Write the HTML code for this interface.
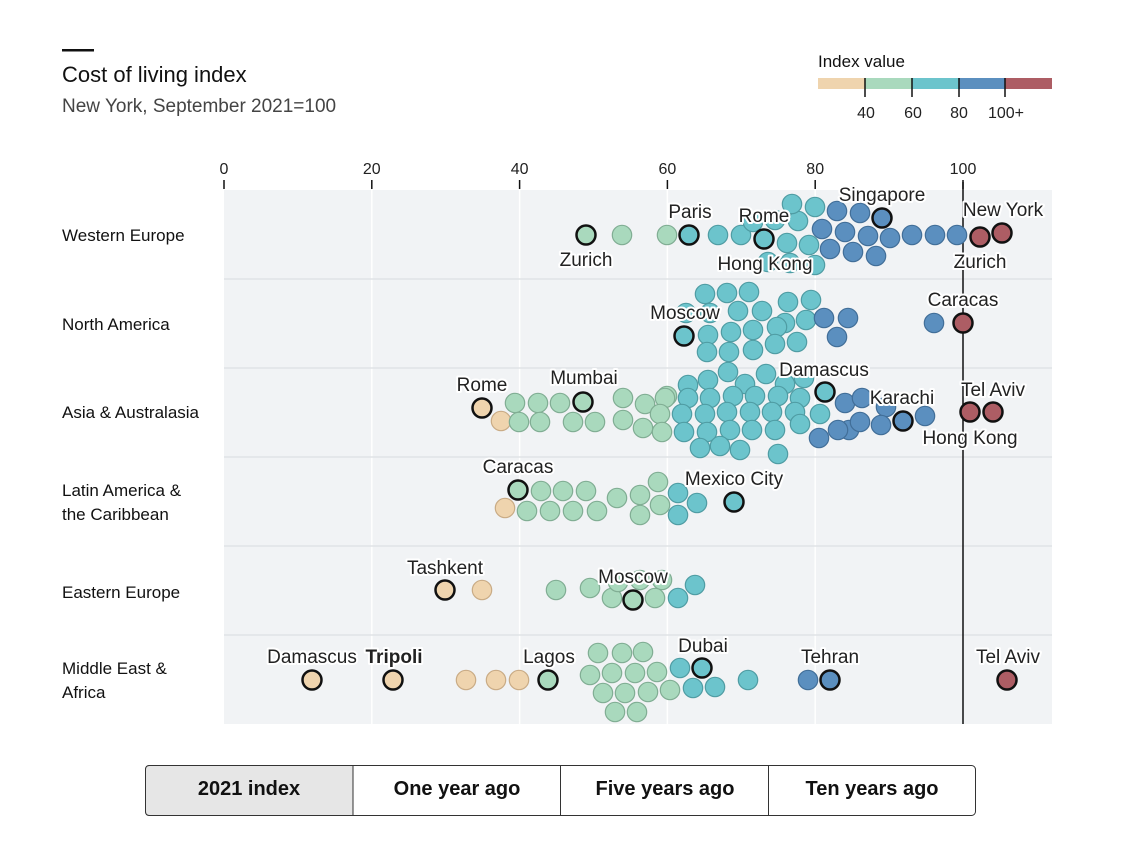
<!DOCTYPE html>
<html><head><meta charset="utf-8"><style>
body{margin:0;background:#fff;}
svg{display:block;font-family:"Liberation Sans",sans-serif;}
.lb{font-size:19px;fill:#222;stroke:#fff;stroke-width:4px;paint-order:stroke;stroke-linejoin:round;text-anchor:middle;}
.rl{font-size:17px;fill:#111;}
.tk{font-size:16px;fill:#222;text-anchor:middle;}
</style></head><body>
<svg id="s" width="1130" height="864" viewBox="0 0 1130 864" xmlns="http://www.w3.org/2000/svg">
<rect x="62" y="49" width="32" height="2.5" fill="#111"/>
<text x="62" y="82" font-size="22" fill="#111">Cost of living index</text>
<text x="62" y="112" font-size="19" fill="#444">New York, September 2021=100</text>
<text x="818" y="67" font-size="17" fill="#111">Index value</text>
<rect x="818" y="78" width="47" height="11" fill="#efd4ae"/>
<rect x="865" y="78" width="47" height="11" fill="#a9d9bd"/>
<rect x="912" y="78" width="47" height="11" fill="#6cc4cc"/>
<rect x="959" y="78" width="46" height="11" fill="#5b8fbf"/>
<rect x="1005" y="78" width="47" height="11" fill="#ad5d64"/>
<g stroke="#111" stroke-width="1.5"><line x1="865" y1="78" x2="865" y2="97"/><line x1="912" y1="78" x2="912" y2="97"/><line x1="959" y1="78" x2="959" y2="97"/><line x1="1005" y1="78" x2="1005" y2="97"/></g>
<g font-size="16" fill="#222" text-anchor="middle"><text x="866" y="118">40</text><text x="913" y="118">60</text><text x="959" y="118">80</text><text x="1006" y="118">100+</text></g>
<rect x="224" y="190" width="828" height="534" fill="#f1f3f5"/>
<g id="grid" stroke="#fff" stroke-width="1.5"></g>
<g id="ticks"></g>
<g stroke="#e0e3e6" stroke-width="1.5">
<line x1="224" y1="279" x2="1052" y2="279"/><line x1="224" y1="368" x2="1052" y2="368"/><line x1="224" y1="457" x2="1052" y2="457"/><line x1="224" y1="546" x2="1052" y2="546"/><line x1="224" y1="635" x2="1052" y2="635"/>
</g>
<line x1="963" y1="182" x2="963" y2="724" stroke="#111" stroke-width="1.5"/>
<g class="rl">
<text x="62" y="241">Western Europe</text>
<text x="62" y="330">North America</text>
<text x="62" y="418">Asia &amp; Australasia</text>
<text x="62" y="496">Latin America &amp;</text><text x="62" y="520">the Caribbean</text>
<text x="62" y="598">Eastern Europe</text>
<text x="62" y="674">Middle East &amp;</text><text x="62" y="698">Africa</text>
</g>
<g id="dots"></g>
<g id="labels">
<text class="lb" x="690" y="218">Paris</text>
<text class="lb" x="764" y="222">Rome</text>
<text class="lb" x="882" y="201">Singapore</text>
<text class="lb" x="1003" y="216">New York</text>
<text class="lb" x="586" y="266">Zurich</text>
<text class="lb" x="765" y="270">Hong Kong</text>
<text class="lb" x="980" y="268">Zurich</text>
<text class="lb" x="685" y="319">Moscow</text>
<text class="lb" x="963" y="306">Caracas</text>
<text class="lb" x="482" y="391">Rome</text>
<text class="lb" x="584" y="384">Mumbai</text>
<text class="lb" x="824" y="376">Damascus</text>
<text class="lb" x="902" y="404">Karachi</text>
<text class="lb" x="993" y="396">Tel Aviv</text>
<text class="lb" x="970" y="444">Hong Kong</text>
<text class="lb" x="518" y="473">Caracas</text>
<text class="lb" x="734" y="485">Mexico City</text>
<text class="lb" x="445" y="574">Tashkent</text>
<text class="lb" x="633" y="583">Moscow</text>
<text class="lb" x="312" y="663">Damascus</text>
<text class="lb" x="394" y="663" font-weight="bold">Tripoli</text>
<text class="lb" x="549" y="663">Lagos</text>
<text class="lb" x="703" y="652">Dubai</text>
<text class="lb" x="830" y="663">Tehran</text>
<text class="lb" x="1008" y="663">Tel Aviv</text>
</g>
<rect x="145.5" y="765.5" width="830" height="50" rx="4" fill="#fff" stroke="#333" stroke-width="1"/>
<path d="M149.5 765.5 H353 V815.5 H149.5 Q145.5 815.5 145.5 811.5 V769.5 Q145.5 765.5 149.5 765.5Z" fill="#e6e6e6" stroke="#333" stroke-width="1"/>
<g stroke="#333" stroke-width="1"><line x1="560.5" y1="765" x2="560.5" y2="816"/><line x1="768.5" y1="765" x2="768.5" y2="816"/></g>
<g font-size="20" font-weight="bold" fill="#111" text-anchor="middle">
<text x="249" y="795">2021 index</text><text x="457" y="795">One year ago</text><text x="665" y="795">Five years ago</text><text x="872" y="795">Ten years ago</text>
</g>
</svg>
<script>
var NS="http://www.w3.org/2000/svg";
function el(p,t,a,txt){var e=document.createElementNS(NS,t);for(var k in a)e.setAttribute(k,a[k]);if(txt)e.textContent=txt;p.appendChild(e);return e;}
var g=document.getElementById('grid'),tk=document.getElementById('ticks');
for(var v=0;v<=100;v+=20){var x=224+v*7.39;if(v>0&&v<100)el(g,'line',{x1:x,y1:190,x2:x,y2:724});el(tk,'line',{x1:x,y1:180,x2:x,y2:189,stroke:'#111','stroke-width':1.5});el(tk,'text',{x:x,y:174,'class':'tk'},String(v));}
var C={Y:['#efd4ae','#c9ab85'],G:['#a9d9bd','#80ad93'],T:['#6cc4cc','#4f9ca3'],B:['#5b8fbf','#416e98'],R:['#ad5d64','#7e3b42']};
function col(x){var v=(x-224)/7.39;if(v<39)return C.Y;if(v<60)return C.G;if(v<80)return C.T;if(v<100)return C.B;return C.R;}
var D=[
[586,235,1],[622,235],[667,235],[689,235,1],[718,235],[741,235],[753,222],[775,220],[798,221],[792,204],[815,207],[787,243],[809,245],[768,262],[790,263],[815,265],[764,239,1],[837,211],[860,213],[882,218,1],[822,229],[845,232],[868,236],[890,238],[830,249],[853,252],[876,256],[912,235],[935,235],[957,235],[980,237,1],[1002,233,1],
[705,294],[727,293],[749,292],[788,302],[811,300],[686,313],[710,313],[738,311],[762,311],[785,323],[806,320],[824,318],[848,318],[708,335],[731,332],[753,330],[777,327],[797,342],[775,344],[753,350],[729,352],[707,352],[837,337],[684,336,1],[934,323],[963,323,1],
[501,421],[482,408,1],[515,403],[538,403],[560,403],[583,402,1],[519,422],[540,422],[573,422],[595,422],[623,398],[645,404],[623,420],[643,428],[667,396],
[728,372],[766,374],[804,378,0,'T'],[688,385],[708,380],[745,384],[785,384],[665,398],[688,398],[710,398],[733,396],[755,396],[778,396],[800,398],[660,414],[682,414],[705,414],[727,412],[750,412],[772,412],[795,412],[820,414,0,'T'],[662,432],[684,432],[707,432],[730,430],[752,430],[775,430],[800,424],[700,448],[720,446],[740,450],[778,454],
[845,403],[862,398],[886,407],[849,430],[860,422],[881,425],[925,416],[819,438],[838,430],[825,392,1,'T'],[903,421,1],[970,412,1],[993,412,1],
[505,508],[541,491],[563,491],[586,491],[527,511],[550,511],[573,511],[597,511],[617,498],[640,495],[658,482],[640,515],[660,505],[678,493,0,'T'],[697,503],[678,515],[518,490,1,'G'],[734,502,1],
[482,590],[556,590],[590,588],[612,598],[618,582],[640,580],[662,580],[655,598],[678,598],[695,585],[445,590,1],[633,600,1],
[466,680],[496,680],[519,680,0,'Y'],[598,653],[622,653],[643,652],[590,675],[612,673],[635,673],[657,672],[603,693],[625,693],[648,692],[670,690,0,'G'],[615,712],[637,712],[680,668],[693,688],[715,687],[748,680],[808,680,0,'B'],[312,680,1],[393,680,1],[548,680,1],[702,668,1],[830,680,1],[1007,680,1]
];
var d=document.getElementById('dots');
D.forEach(function(p){var c=p[3]?C[p[3]]:col(p[0]);if(!p[2])el(d,'circle',{cx:p[0],cy:p[1],r:9.7,fill:c[0],stroke:c[1],'stroke-width':1.2});});
D.forEach(function(p){if(p[2]){var c=p[3]?C[p[3]]:col(p[0]);el(d,'circle',{cx:p[0],cy:p[1],r:9.5,fill:c[0],stroke:'#111','stroke-width':2.5});}});
</script>
</body></html>
